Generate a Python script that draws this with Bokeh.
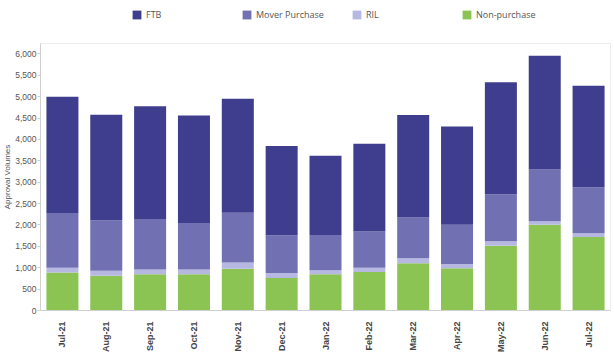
import math
from bokeh.plotting import figure
from bokeh.layouts import column
from bokeh.models import Legend, LegendItem, NumeralTickFormatter, FixedTicker, ColumnDataSource
from bokeh.embed import file_html
from bokeh.resources import INLINE

months = ["Jul-21", "Aug-21", "Sep-21", "Oct-21", "Nov-21", "Dec-21", "Jan-22",
          "Feb-22", "Mar-22", "Apr-22", "May-22", "Jun-22", "Jul-22"]
non_purchase = [890, 810, 845, 845, 975, 760, 845, 900, 1105, 990, 1515, 2005, 1720]
ril = [110, 120, 115, 115, 145, 115, 95, 100, 115, 100, 105, 80, 85]
mover_purchase = [1280, 1180, 1180, 1085, 1165, 885, 825, 845, 955, 915, 1100, 1215, 1080]
ftb = [2720, 2470, 2640, 2515, 2665, 2090, 1855, 2055, 2400, 2300, 2620, 2660, 2370]
y_ticks = list(range(0, 6001, 500))

series = ["Non-purchase", "RIL", "Mover Purchase", "FTB"]
colors = ["#8bc453", "#b7b8e2", "#7070b2", "#3f3e8e"]
color_of = dict(zip(series, colors))

source = ColumnDataSource(dict(month=months, **{"Non-purchase": non_purchase, "RIL": ril,
                                               "Mover Purchase": mover_purchase, "FTB": ftb}))

# ---- legend strip ----
leg = figure(width=614, height=42, output_backend="svg", toolbar_location=None,
             x_axis_type=None, y_axis_type=None, min_border=0,
             x_range=(0, 1), y_range=(0, 1))
leg.outline_line_color = None
leg.xgrid.grid_line_color = None
leg.ygrid.grid_line_color = None
legend_order = ["FTB", "Mover Purchase", "RIL", "Non-purchase"]
items = []
for n in legend_order:
    # hidden stand-in renderer, used only for its legend swatch
    r = leg.vbar(x=[0.5], top=[0.5], width=0.1, color=color_of[n], line_color=None, visible=False)
    items.append(LegendItem(label=n, renderers=[r]))
legend = Legend(items=items, orientation="horizontal", location=(91, 21),
                glyph_width=11, glyph_height=11, label_standoff=4, label_width=87,
                spacing=8, padding=0, margin=0,
                border_line_color=None, background_fill_alpha=0,
                label_text_font="Open Sans", label_text_font_size="9px",
                label_text_color="#555555")
leg.add_layout(legend, "center")

# ---- main chart ----
p = figure(x_range=months, y_range=(0, 6245), width=614, height=313,
           output_backend="svg", toolbar_location=None,
           min_border_left=40, min_border_right=4, min_border_top=1, min_border_bottom=43)

p.vbar_stack(series, x="month", width=0.73, color=colors, line_color=None, source=source)

p.xgrid.grid_line_color = None
p.ygrid.grid_line_color = None
p.outline_line_color = "#ececec"

yaxis = p.yaxis[0]
yaxis.ticker = FixedTicker(ticks=y_ticks)
yaxis.formatter = NumeralTickFormatter(format="0,0")
yaxis.axis_label = "Approval Volumes"
yaxis.axis_label_text_font = "Liberation Sans"
yaxis.axis_label_text_font_size = "8px"
yaxis.axis_label_text_font_style = "normal"
yaxis.axis_label_text_color = "#555555"
yaxis.axis_label_standoff = 0
yaxis.major_label_text_font = "Liberation Sans"
yaxis.major_label_text_font_size = "8.5px"
yaxis.major_label_text_color = "#555555"
yaxis.major_label_standoff = 1
yaxis.major_tick_out = 3
yaxis.major_tick_in = 0
yaxis.minor_tick_line_color = None
yaxis.axis_line_color = "#d0d0d0"
yaxis.major_tick_line_color = "#d0d0d0"

xaxis = p.xaxis[0]
xaxis.major_label_orientation = math.pi / 2
xaxis.major_label_text_font = "Liberation Sans"
xaxis.major_label_text_font_size = "9px"
xaxis.major_label_text_font_style = "bold"
xaxis.major_label_text_color = "#444444"
xaxis.major_label_standoff = 5
xaxis.major_tick_line_color = None
xaxis.axis_line_color = "#d0d0d0"

layout = column(leg, p, spacing=0)
open("out.html", "w").write(file_html(layout, INLINE))
